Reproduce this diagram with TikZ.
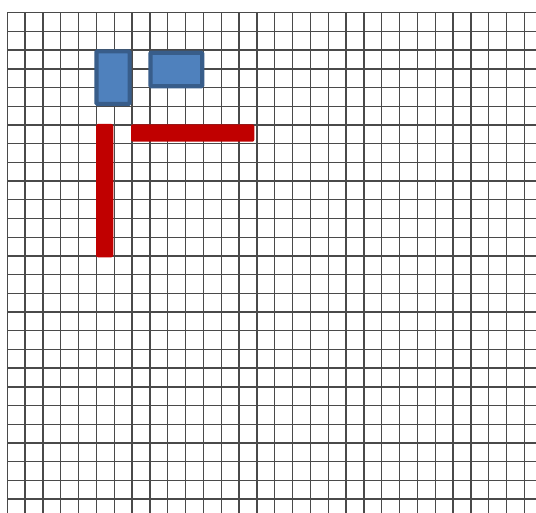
\documentclass[tikz,border=0pt]{standalone}
\definecolor{gridc}{HTML}{4A4A4A}
\definecolor{bluefill}{HTML}{4F81BD}
\definecolor{blueline}{HTML}{385D8A}
\definecolor{barred}{HTML}{C00000}
\tikzset{
  gridline/.style={draw=gridc, line width=1.4pt},
  bluebox/.style={fill=bluefill, draw=blueline, line width=4.2pt, rounded corners=1pt},
  redbar/.style={fill=barred, rounded corners=2pt},
}
\begin{document}
\begin{tikzpicture}[x=1pt,y=-1pt]
\useasboundingbox (0,0) rectangle (536,513);
\fill[white] (0,0) rectangle (536,513);
% vertical grid lines
\foreach \k in {0,...,29} {
  \draw[gridline] ({7.3+\k*17.83},12.7) -- ({7.3+\k*17.83},513);
}
% horizontal grid lines
\foreach \k in {0,...,26} {
  \draw[gridline] (7.3,{12.7+\k*18.71}) -- (536,{12.7+\k*18.71});
}
% blue boxes
\draw[bluebox] (96.4,51.4) rectangle (129.6,103.9);
\draw[bluebox] (150.4,52.8) rectangle (202.2,86.2);
% red bars
\fill[redbar] (96,124) rectangle (113.3,257.3);
\fill[redbar] (131,124.3) rectangle (254.3,141.7);
\end{tikzpicture}
\end{document}
